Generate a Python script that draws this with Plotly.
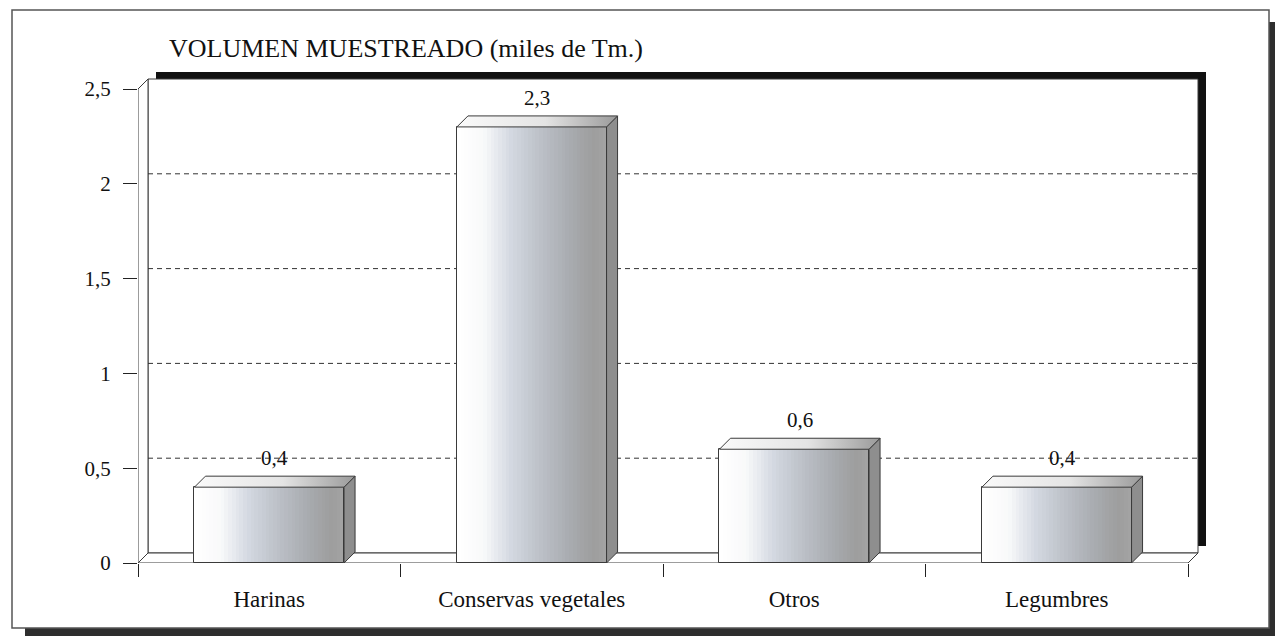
import plotly.graph_objects as go
from plotly.colors import sample_colorscale

# datos
categorias = ["Harinas", "Conservas vegetales", "Otros", "Legumbres"]
volumen = [0.4, 2.3, 0.6, 0.4]
etiquetas = ["0,4", "2,3", "0,6", "0,4"]
y_ticks = [0, 0.5, 1, 1.5, 2, 2.5]
titulo = "VOLUMEN MUESTREADO (miles de Tm.)"

# geometry (pixels -> data units)
W, H = 1275, 636
ML, MR, MT, MB = 138, 55, 70, 73
PW = W - ML - MR
PH = H - MT - MB
CAT_PX = 262.5
Y_PX = 189.6
X_LO = -0.5
X_HI = X_LO + PW / CAT_PX
Y_HI = PH / Y_PX
X_END = len(categorias) - 0.5
Y_TOP = y_ticks[-1]

DX, DY = 11 / CAT_PX, 11 / Y_PX          # bar depth
WDX, WDY = 10 / CAT_PX, 10 / Y_PX        # wall depth
SDX, SDY = 8 / CAT_PX, 7 / Y_PX          # wall shadow
BAR_W = 0.57
N_STRIPS = 40

LINE = "#3a3a3a"
FONT = "Liberation Serif"

front_scale = [
    [0.0, "#ffffff"], [0.18, "#f8f9fa"], [0.36, "#d3d8e1"],
    [0.56, "#bcc0c7"], [0.76, "#a8abaf"], [0.92, "#9d9d9d"], [1.0, "#a4a4a4"],
]
top_scale = [[0.0, "#fafafa"], [0.55, "#e4e4e4"], [1.0, "#9a9a9a"]]


def px_x(p):
    return (p - ML) / PW


def px_y(p):
    return (H - MB - p) / PH


fig = go.Figure()
xs = list(range(len(categorias)))

# front faces: gradient built from narrow overlaid bars
step = BAR_W / N_STRIPS
colors = sample_colorscale(front_scale, [(i + 0.5) / N_STRIPS for i in range(N_STRIPS)])
for i, c in enumerate(colors):
    off = -BAR_W / 2 + i * step
    w = min(step * 1.6, BAR_W / 2 - off)
    fig.add_trace(go.Bar(
        x=xs, y=volumen, width=w, offset=off,
        marker=dict(color=c, line=dict(width=0)),
        hoverinfo="skip", showlegend=False,
    ))

fig.add_trace(go.Bar(
    x=xs, y=volumen, width=BAR_W, customdata=categorias,
    marker=dict(color="rgba(0,0,0,0)", line=dict(color=LINE, width=1)),
    hovertemplate="%{customdata}: %{y}<extra></extra>", showlegend=False,
))

# top and side faces
for x, v in zip(xs, volumen):
    x0, x1 = x - BAR_W / 2, x + BAR_W / 2
    fig.add_trace(go.Scatter(
        x=[x1, x1 + DX, x1 + DX, x1, x1], y=[0, DY, v + DY, v, 0],
        mode="lines", fill="toself", fillcolor="#8e8e8e",
        line=dict(color=LINE, width=1), hoverinfo="skip", showlegend=False,
    ))
    fig.add_trace(go.Scatter(
        x=[x0, x1, x1 + DX, x0 + DX, x0], y=[v, v, v + DY, v + DY, v],
        mode="lines", fill="toself",
        fillgradient=dict(type="horizontal", colorscale=top_scale),
        line=dict(color=LINE, width=1), hoverinfo="skip", showlegend=False,
    ))

shapes = []
# outer frame + shadow
shapes.append(dict(type="rect", xref="paper", yref="paper", layer="below",
                   x0=px_x(25), x1=px_x(1275), y0=px_y(636), y1=px_y(628),
                   fillcolor="#2e2e2e", line=dict(width=0)))
shapes.append(dict(type="rect", xref="paper", yref="paper", layer="below",
                   x0=px_x(1269), x1=px_x(1275), y0=px_y(636), y1=px_y(22),
                   fillcolor="#2e2e2e", line=dict(width=0)))
shapes.append(dict(type="rect", xref="paper", yref="paper", layer="below",
                   x0=px_x(12), x1=px_x(1269), y0=px_y(628), y1=px_y(10),
                   line=dict(color="#555555", width=1.5)))

# back wall shadow, wall, side wall, floor
shapes.append(dict(type="rect", layer="below",
                   x0=X_LO + WDX + SDX, x1=X_END + WDX + SDX,
                   y0=WDY + SDY, y1=Y_TOP + WDY + SDY,
                   fillcolor="#111111", line=dict(width=0)))
shapes.append(dict(type="rect", layer="below",
                   x0=X_LO + WDX, x1=X_END + WDX, y0=WDY, y1=Y_TOP + WDY,
                   fillcolor="white", line=dict(color=LINE, width=1)))
shapes.append(dict(type="path", layer="below",
                   path=f"M {X_LO},0 L {X_LO},{Y_TOP} L {X_LO + WDX},{Y_TOP + WDY} "
                        f"L {X_LO + WDX},{WDY} Z",
                   fillcolor="white", line=dict(color=LINE, width=1)))
shapes.append(dict(type="path", layer="below",
                   path=f"M {X_LO},0 L {X_END},0 L {X_END + WDX},{WDY} "
                        f"L {X_LO + WDX},{WDY} Z",
                   fillcolor="white", line=dict(color=LINE, width=1)))
for t in y_ticks[1:-1]:
    shapes.append(dict(type="line", layer="below",
                       x0=X_LO + WDX, x1=X_END + WDX, y0=t + WDY, y1=t + WDY,
                       line=dict(color="#333333", width=1, dash="5px,4px")))

annotations = []
for x, v, txt in zip(xs, volumen, etiquetas):
    annotations.append(dict(x=x + DX / 2, y=v + DY, text=txt, showarrow=False,
                            yanchor="bottom", yshift=4,
                            font=dict(family=FONT, size=21, color="#111")))
annotations.append(dict(xref="paper", yref="paper", x=px_x(167), y=px_y(48),
                        xanchor="left", yanchor="middle", text=titulo,
                        showarrow=False,
                        font=dict(family=FONT, size=26, color="#111")))

boundaries = [i - 0.5 for i in range(len(categorias) + 1)]

fig.update_layout(
    width=W, height=H, autosize=False,
    margin=dict(l=ML, r=MR, t=MT, b=MB, pad=0),
    paper_bgcolor="white", plot_bgcolor="white",
    barmode="overlay", bargap=0, showlegend=False,
    separators=",.",
    font=dict(family=FONT, color="#111"),
    shapes=shapes, annotations=annotations,
    xaxis=dict(
        range=[X_LO, X_HI], tickmode="array", tickvals=xs, ticktext=categorias,
        ticks="", showgrid=False, zeroline=False, showline=False,
        ticklabelstandoff=20, tickfont=dict(family=FONT, size=23, color="#111"),
        minor=dict(tickmode="array", tickvals=boundaries, ticks="outside",
                   ticklen=13, tickcolor="#222", tickwidth=1, showgrid=False),
    ),
    yaxis=dict(
        range=[0, Y_HI], tickmode="array", tickvals=y_ticks,
        ticks="outside", ticklen=14, tickcolor="#222", tickwidth=1,
        showgrid=False, zeroline=False, showline=False,
        ticklabelstandoff=8, tickfont=dict(family=FONT, size=21, color="#111"),
    ),
)

fig.write_html("out.html", config={"displayModeBar": False},
               post_script="document.body.style.margin='0';")
